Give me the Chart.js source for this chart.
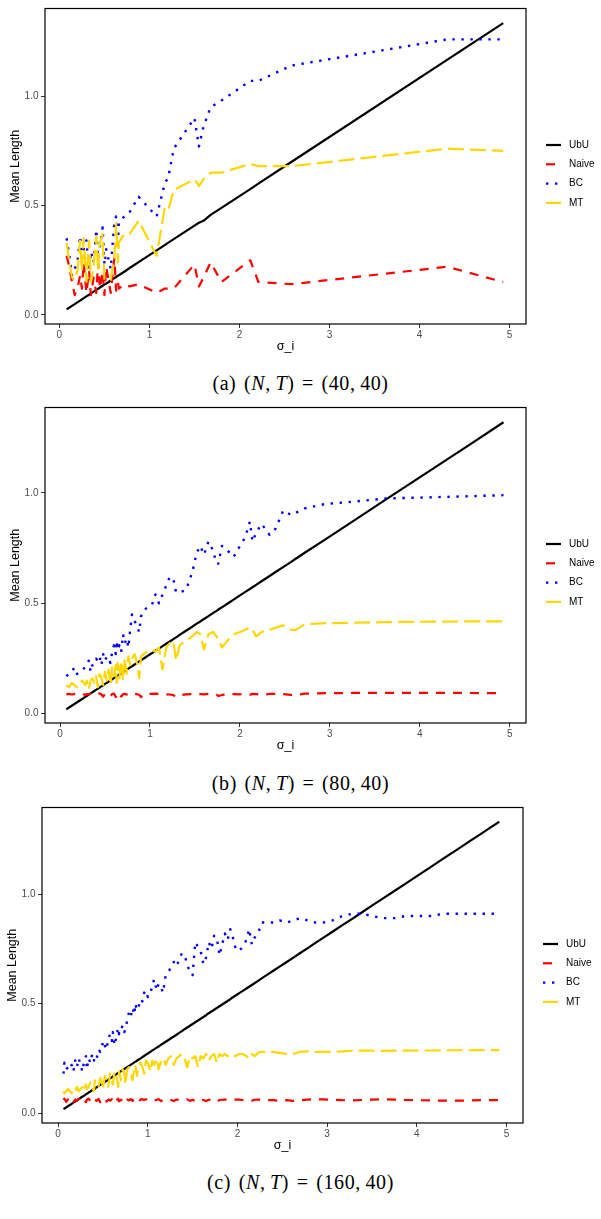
<!DOCTYPE html>
<html>
<head>
<meta charset="utf-8">
<script src="https://cdn.jsdelivr.net/npm/chart.js@4.4.0/dist/chart.umd.min.js"></script>
<style>
  body { margin:0; background:#fff; width:601px; height:1219px; position:relative; overflow:hidden; }
  .panel { position:absolute; width:601px; height:360px; }
  .cap { position:absolute; left:0; width:601px; text-align:center; font-family:'Liberation Serif',serif; font-size:20px; line-height:24px; color:#000; letter-spacing:0.6px; word-spacing:2px; }
</style>
</head>
<body>
<div class="panel" style="top:0;left:0"><canvas id="chart-a" width="601" height="360"></canvas></div>
<div class="cap" style="top:371px">(a) (<i>N</i>,&thinsp;<i>T</i>) = (40,&thinsp;40)</div>
<div class="panel" style="top:399px;left:0"><canvas id="chart-b" width="601" height="360"></canvas></div>
<div class="cap" style="top:771px">(b) (<i>N</i>,&thinsp;<i>T</i>) = (80,&thinsp;40)</div>
<div class="panel" style="top:799px;left:-3px"><canvas id="chart-c" width="601" height="360"></canvas></div>
<div class="cap" style="top:1170px">(c) (<i>N</i>,&thinsp;<i>T</i>) = (160,&thinsp;40)</div>
<script>
'use strict';

const methods = ['UbU', 'Naive', 'BC', 'MT'];
const xTicks = [0, 1, 2, 3, 4, 5];
const yTicks = [0, 0.5, 1.0];

// ---- panel (a): N = 40
const sigA = [0.08,0.11,0.14,0.17,0.20,0.23,0.25,0.27,0.30,0.33, 0.35,0.38,0.41,0.43,0.45,0.48,0.50,0.52,0.57,0.61,
  0.63,0.65,0.66,0.72,0.78,0.88,1.08,1.17,1.21,1.27, 1.50,1.55,1.60,1.68,1.80,2.12,2.21,2.58,4.31,4.93];
const ubuA = [0.025,0.033,0.041,0.049,0.057,0.065,0.071,0.076,0.084,0.092, 0.098,0.106,0.114,0.119,0.125,0.133,0.138,0.143,0.157,0.168,
  0.173,0.179,0.181,0.197,0.214,0.241,0.295,0.319,0.330,0.346, 0.408,0.421,0.430,0.457,0.489,0.575,0.600,0.700,1.167,1.334];
const naiveA = [0.27,0.22,0.15,0.09,0.12,0.18,0.12,0.24,0.10,0.20, 0.09,0.17,0.10,0.24,0.12,0.20,0.09,0.22,0.10,0.26,
  0.11,0.15,0.12,0.14,0.13,0.14,0.10,0.12,0.12,0.12, 0.23,0.13,0.17,0.24,0.15,0.25,0.15,0.14,0.22,0.15];
const bcA = [0.35,0.27,0.18,0.21,0.24,0.36,0.26,0.30,0.34,0.20, 0.29,0.24,0.39,0.26,0.31,0.40,0.23,0.30,0.21,0.42,
  0.45,0.33,0.42,0.45,0.47,0.54,0.45,0.60,0.63,0.76, 0.90,0.77,0.86,0.95,0.98,1.07,1.07,1.14,1.26,1.26];
const mtA = [0.33,0.24,0.17,0.16,0.20,0.34,0.20,0.35,0.15,0.34, 0.15,0.22,0.36,0.20,0.33,0.37,0.16,0.16,0.16,0.26,
  0.42,0.24,0.33,0.37,0.37,0.43,0.27,0.49,0.48,0.57, 0.62,0.59,0.62,0.65,0.65,0.69,0.68,0.68,0.76,0.75];

// ---- panel (b): N = 80
const sigB = [0.07,0.10,0.13,0.16,0.19,0.22,0.25,0.28,0.30,0.32, 0.34,0.36,0.38,0.40,0.42,0.44,0.46,0.48,0.50,0.52,
  0.54,0.56,0.58,0.60,0.62,0.63,0.64,0.66,0.68,0.70, 0.72,0.74,0.76,0.78,0.80,0.83,0.86,0.88,0.90,0.93,
  0.97,1.02,1.06,1.10,1.14,1.18,1.22,1.26,1.29,1.33, 1.40,1.47,1.52,1.56,1.60,1.65,1.70,1.74,1.76,1.80,
  1.86,1.93,2.00,2.06,2.11,2.14,2.18,2.24,2.33,2.40, 2.48,2.57,2.62,2.72,2.95,3.25,3.62,4.10,4.55,4.93];
const ubuB = [0.020,0.028,0.036,0.044,0.052,0.060,0.068,0.076,0.081,0.087, 0.092,0.097,0.103,0.108,0.113,0.119,0.124,0.129,0.135,0.140,
  0.145,0.151,0.156,0.162,0.167,0.170,0.172,0.178,0.183,0.188, 0.194,0.199,0.204,0.210,0.215,0.223,0.231,0.237,0.242,0.250,
  0.261,0.274,0.285,0.295,0.306,0.317,0.327,0.338,0.346,0.357, 0.376,0.394,0.408,0.418,0.429,0.442,0.456,0.466,0.472,0.482,
  0.498,0.517,0.536,0.552,0.565,0.573,0.584,0.600,0.624,0.643, 0.664,0.688,0.702,0.729,0.790,0.870,0.970,1.098,1.218,1.320];
const naiveB = [0.088,0.090,0.087,0.089,0.086,0.088,0.090,0.085,0.089,0.087, 0.091,0.086,0.088,0.084,0.090,0.092,0.087,0.077,0.090,0.094,
  0.086,0.080,0.089,0.091,0.076,0.090,0.085,0.092,0.078,0.088, 0.090,0.087,0.084,0.089,0.091,0.090,0.088,0.086,0.075,0.089,
  0.091,0.090,0.091,0.090,0.089,0.088,0.087,0.084,0.076,0.083, 0.088,0.089,0.088,0.089,0.088,0.090,0.089,0.087,0.080,0.085,
  0.088,0.089,0.088,0.089,0.086,0.090,0.089,0.085,0.090,0.090, 0.089,0.085,0.084,0.091,0.093,0.094,0.094,0.094,0.094,0.093];
const bcB = [0.17,0.18,0.19,0.21,0.18,0.19,0.20,0.21,0.23,0.24, 0.19,0.22,0.23,0.25,0.24,0.26,0.22,0.27,0.24,0.26,
  0.25,0.23,0.28,0.31,0.27,0.33,0.29,0.31,0.28,0.36, 0.32,0.34,0.30,0.38,0.45,0.42,0.39,0.37,0.44,0.47,
  0.48,0.49,0.54,0.50,0.54,0.58,0.62,0.61,0.55,0.55, 0.56,0.64,0.73,0.76,0.72,0.78,0.74,0.68,0.68,0.76,
  0.74,0.71,0.76,0.80,0.87,0.78,0.82,0.86,0.81,0.84, 0.92,0.90,0.91,0.93,0.95,0.96,0.975,0.98,0.985,0.99];
const mtB = [0.13,0.12,0.14,0.13,0.12,0.14,0.15,0.13,0.15,0.11, 0.15,0.16,0.14,0.17,0.12,0.18,0.16,0.13,0.19,0.15,
  0.20,0.13,0.21,0.17,0.22,0.14,0.23,0.16,0.24,0.15, 0.25,0.18,0.26,0.22,0.25,0.27,0.22,0.16,0.26,0.27,
  0.28,0.29,0.28,0.30,0.20,0.30,0.32,0.33,0.24,0.31, 0.33,0.35,0.37,0.36,0.29,0.36,0.37,0.35,0.34,0.30,
  0.33,0.36,0.37,0.38,0.39,0.38,0.35,0.37,0.38,0.39, 0.40,0.38,0.38,0.405,0.41,0.412,0.415,0.417,0.418,0.418];

// ---- panel (c): N = 160
const sigC = [0.06,0.07,0.09,0.11,0.13,0.15,0.17,0.19,0.21,0.23, 0.25,0.27,0.29,0.31,0.32,0.34,0.36,0.38,0.40,0.41,
  0.43,0.45,0.47,0.49,0.50,0.52,0.54,0.56,0.58,0.60, 0.61,0.63,0.65,0.67,0.68,0.70,0.72,0.74,0.75,0.77,
  0.79,0.81,0.83,0.85,0.86,0.88,0.90,0.92,0.94,0.96, 0.98,1.00,1.03,1.05,1.07,1.10,1.12,1.15,1.17,1.20,
  1.23,1.26,1.29,1.32,1.35,1.38,1.41,1.44,1.47,1.50, 1.53,1.56,1.59,1.62,1.65,1.68,1.71,1.74,1.77,1.80,
  1.83,1.86,1.89,1.92,1.95,1.98,2.02,2.06,2.10,2.13, 2.16,2.19,2.23,2.27,2.33,2.40,2.47,2.55,2.62,2.70,
  2.78,2.87,2.96,3.06,3.17,3.28,3.39,3.50,3.62,3.75, 3.88,4.01,4.15,4.30,4.45,4.60,4.72,4.82,4.88,4.92];
const ubuC = [0.018,0.021,0.026,0.032,0.037,0.042,0.048,0.053,0.059,0.064, 0.070,0.075,0.080,0.086,0.088,0.094,0.099,0.105,0.110,0.113,
  0.118,0.124,0.129,0.134,0.137,0.143,0.148,0.153,0.159,0.164, 0.167,0.172,0.178,0.183,0.186,0.191,0.196,0.202,0.205,0.210,
  0.215,0.221,0.226,0.232,0.234,0.240,0.245,0.250,0.256,0.261, 0.267,0.272,0.280,0.286,0.291,0.299,0.304,0.313,0.318,0.326,
  0.334,0.342,0.350,0.358,0.366,0.374,0.383,0.391,0.399,0.407, 0.415,0.423,0.431,0.439,0.447,0.456,0.464,0.472,0.480,0.488,
  0.496,0.504,0.512,0.520,0.529,0.537,0.548,0.558,0.569,0.577, 0.585,0.593,0.604,0.615,0.631,0.650,0.669,0.690,0.709,0.731,
  0.752,0.777,0.801,0.828,0.858,0.887,0.917,0.947,0.979,1.014, 1.049,1.084,1.122,1.163,1.203,1.244,1.276,1.303,1.319,1.330];
const naiveC = [0.060,0.066,0.052,0.063,0.058,0.067,0.050,0.062,0.057,0.065, 0.053,0.064,0.058,0.050,0.061,0.066,0.055,0.060,0.052,0.063,
  0.056,0.065,0.050,0.061,0.059,0.067,0.053,0.062,0.057,0.064, 0.051,0.063,0.058,0.066,0.054,0.061,0.059,0.065,0.052,0.062,
  0.058,0.064,0.056,0.067,0.061,0.063,0.053,0.062,0.064,0.060, 0.063,0.066,0.064,0.062,0.057,0.061,0.064,0.055,0.060,0.063,
  0.061,0.060,0.055,0.062,0.061,0.058,0.062,0.063,0.056,0.061, 0.054,0.061,0.062,0.060,0.055,0.061,0.062,0.058,0.052,0.060,
  0.061,0.062,0.063,0.063,0.063,0.062,0.062,0.060,0.058,0.060, 0.057,0.061,0.062,0.062,0.060,0.059,0.056,0.059,0.056,0.058,
  0.062,0.063,0.063,0.061,0.059,0.058,0.060,0.062,0.063,0.062, 0.060,0.059,0.058,0.057,0.057,0.058,0.059,0.059,0.059,0.059];
const bcC = [0.18,0.23,0.20,0.21,0.20,0.22,0.19,0.24,0.21,0.25, 0.22,0.19,0.24,0.26,0.20,0.25,0.23,0.27,0.24,0.26,
  0.25,0.29,0.28,0.30,0.33,0.31,0.29,0.34,0.36,0.33, 0.37,0.31,0.35,0.39,0.36,0.38,0.40,0.37,0.39,0.42,
  0.46,0.44,0.48,0.45,0.50,0.47,0.49,0.52,0.51,0.55, 0.56,0.53,0.55,0.58,0.61,0.56,0.59,0.57,0.55,0.63,
  0.65,0.66,0.69,0.67,0.70,0.73,0.72,0.68,0.64,0.63, 0.78,0.76,0.74,0.68,0.71,0.78,0.75,0.81,0.80,0.72,
  0.77,0.82,0.79,0.84,0.80,0.75,0.74,0.76,0.79,0.84, 0.77,0.80,0.82,0.87,0.87,0.87,0.88,0.87,0.88,0.89,
  0.88,0.87,0.87,0.88,0.90,0.91,0.91,0.90,0.89,0.89, 0.90,0.90,0.90,0.91,0.91,0.91,0.91,0.91,0.91,0.91];
const mtC = [0.10,0.09,0.10,0.11,0.10,0.09,0.11,0.10,0.12,0.10, 0.11,0.12,0.10,0.13,0.11,0.12,0.14,0.12,0.10,0.15,
  0.13,0.12,0.16,0.14,0.11,0.17,0.15,0.12,0.18,0.16, 0.13,0.19,0.17,0.12,0.19,0.15,0.20,0.18,0.13,0.20,
  0.21,0.19,0.15,0.21,0.22,0.17,0.22,0.23,0.21,0.18, 0.24,0.23,0.19,0.24,0.22,0.25,0.20,0.24,0.25,0.22,
  0.25,0.26,0.22,0.25,0.26,0.27,0.25,0.21,0.26,0.25, 0.26,0.21,0.26,0.25,0.27,0.24,0.26,0.27,0.23,0.27,
  0.26,0.27,0.26,0.27,0.265,0.26,0.27,0.27,0.26,0.25, 0.27,0.26,0.275,0.28,0.28,0.28,0.275,0.27,0.27,0.28,
  0.282,0.28,0.28,0.28,0.282,0.285,0.285,0.285,0.284,0.285, 0.285,0.286,0.286,0.287,0.287,0.287,0.288,0.288,0.288,0.288];

const lineColors = ['#000000', '#FF0000', '#0000FF', '#FFD700'];
const lineDash = [[], [9, 8], [2.4, 6.6], [16, 6]];
const lineWidth = [2.2, 2.2, 2.4, 2.2];

// box round the plot area (ggplot panel border)
const frame = {
  id: 'frame',
  afterDatasetsDraw(chart) {
    const {ctx, chartArea: a} = chart;
    ctx.save();
    ctx.strokeStyle = '#000';
    ctx.lineWidth = 1.2;
    ctx.strokeRect(a.left, a.top, a.right - a.left, a.bottom - a.top);
    ctx.restore();
  }
};

// ggplot-like legend on the right, keys are short line samples
const sideLegend = {
  id: 'sideLegend',
  afterDraw(chart) {
    const {ctx, chartArea: a} = chart;
    const x0 = a.right + 20;
    ctx.save();
    ctx.font = '10px "Liberation Sans", Arial, sans-serif';
    ctx.textBaseline = 'middle';
    chart.data.datasets.forEach((ds, i) => {
      const y = 145 + i * 19.3;
      ctx.strokeStyle = ds.borderColor;
      ctx.lineWidth = ds.borderWidth;
      ctx.lineCap = 'butt';
      ctx.setLineDash(ds.borderDash);
      ctx.beginPath(); ctx.moveTo(x0, y); ctx.lineTo(x0 + 15, y); ctx.stroke();
      ctx.setLineDash([]);
      ctx.fillStyle = '#000';
      ctx.fillText(ds.label, x0 + 23, y);
    });
    ctx.restore();
  }
};

function pts(sig, vals) { return sig.map((s, i) => ({x: s, y: vals[i]})); }

function renderPanel(id, sig, series, xr, yr) {
  const ctx = document.getElementById(id);
  const datasets = series.map((vals, k) => ({
    label: methods[k], data: pts(sig, vals),
    borderColor: lineColors[k], borderWidth: lineWidth[k], borderDash: lineDash[k],
    borderCapStyle: 'butt', borderJoinStyle: 'round',
    pointRadius: 0, tension: 0, fill: false, order: 4 - k
  }));
  const tickFont = {family: 'Liberation Sans', size: 10};
  const titleFont = {family: 'Liberation Sans', size: 12.5};
  return new Chart(ctx, {
    type: 'line',
    data: {datasets},
    options: {
      responsive: false, animation: false, devicePixelRatio: 1,
      layout: {padding: {top: 6, right: 75, left: 0, bottom: 0}},
      plugins: {legend: {display: false}, tooltip: {enabled: false}},
      scales: {
        x: {
          type: 'linear', min: xr[0], max: xr[1],
          afterBuildTicks: s => { s.ticks = xTicks.map(v => ({value: v})); },
          afterFit: s => { s.height = 36; },
          grid: {drawOnChartArea: false, drawTicks: true, tickLength: 4, color: '#333', lineWidth: 1},
          border: {display: false},
          ticks: {color: '#4d4d4d', font: tickFont, padding: 1, maxRotation: 0, callback: v => String(v)},
          title: {display: true, text: 'σ_i', color: '#000', font: titleFont, padding: {top: 0, bottom: 6}}
        },
        y: {
          type: 'linear', min: yr[0], max: yr[1],
          afterBuildTicks: s => { s.ticks = yTicks.map(v => ({value: v})); },
          afterFit: s => { s.width = 45; },
          grid: {drawOnChartArea: false, drawTicks: true, tickLength: 4, color: '#333', lineWidth: 1},
          border: {display: false},
          ticks: {color: '#4d4d4d', font: tickFont, padding: 2.5, callback: v => v.toFixed(1)},
          title: {display: true, text: 'Mean Length', color: '#000', font: titleFont, padding: {top: 8, bottom: 0}}
        }
      }
    },
    plugins: [frame, sideLegend]
  });
}

renderPanel('chart-a', sigA, [ubuA, naiveA, bcA, mtA], [-0.16, 5.183], [-0.042, 1.401]);
renderPanel('chart-b', sigB, [ubuB, naiveB, bcB, mtB], [-0.167, 5.18], [-0.042, 1.387]);
renderPanel('chart-c', sigC, [ubuC, naiveC, bcC, mtC], [-0.18, 5.185], [-0.045, 1.395]);
</script>
</body>
</html>
